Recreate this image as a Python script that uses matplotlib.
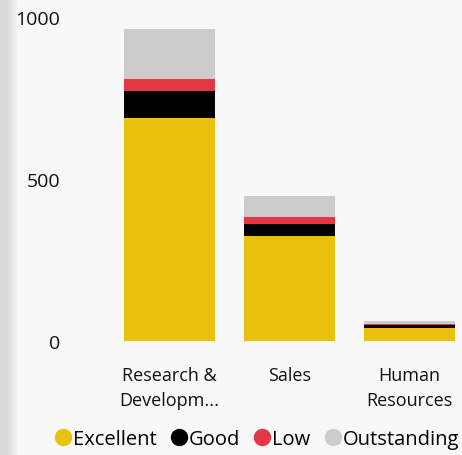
import matplotlib
matplotlib.use("Agg")
import matplotlib.pyplot as plt
from matplotlib.lines import Line2D
from matplotlib.patches import Rectangle
import numpy as np

categories = ["Research &\nDevelopm...", "Sales", "Human\nResources"]
series_names = ["Excellent", "Good", "Low", "Outstanding"]
excellent = [688, 323, 41]
good = [83, 38, 7]
low = [37, 22, 4]
outstanding = [154, 64, 10]
colors = ["#EAC10D", "#000000", "#E53646", "#CCCCCC"]
yticks = [0, 500, 1000]

plt.rcParams['font.family'] = ['Open Sans', 'DejaVu Sans']
W, H = 462, 456
fig = plt.figure(figsize=(W/100, H/100), dpi=100)
fig.patch.set_facecolor("#F8F8F8")

# left grey strip
fig.patches.append(Rectangle((0, 0), 8/W, 1, transform=fig.transFigure,
                             facecolor="#D9D9D9", edgecolor="none", zorder=0))
for i in range(10):
    c = 0.851 + (0.973 - 0.851) * (i + 1) / 11
    fig.patches.append(Rectangle(((8 + i)/W, 0), 1/W, 1, transform=fig.transFigure,
                                 facecolor=(c, c, c), edgecolor="none", zorder=0))

left, right = 110, 462
bottom, top = 342, 18
ax = fig.add_axes([left/W, (H-bottom)/H, (right-left)/W, (bottom-top)/H])
ax.set_facecolor("none")

x = np.arange(len(categories))
series = [excellent, good, low, outstanding]
base = np.zeros(len(categories))
for vals, name, col in zip(series, series_names, colors):
    ax.bar(x, vals, bottom=base, width=0.76, color=col, label=name, linewidth=0)
    base += np.array(vals)

ax.set_xlim(-0.496, 2.4375)
ax.set_ylim(0, 1000)
ax.set_yticks(yticks)
ax.set_yticklabels([str(v) for v in yticks], fontsize=14, color="#111111")
ax.tick_params(axis='y', length=0, pad=36)
ax.set_xticks(x)
ax.set_xticklabels(categories, fontsize=13, color="#111111", linespacing=1.5)
ax.tick_params(axis='x', length=0, pad=18)
for s in ax.spines.values():
    s.set_visible(False)

handles = [Line2D([0], [0], marker='o', linestyle='none', markersize=11.5,
                  markerfacecolor=c, markeredgecolor=c) for c in colors]
fig.legend(handles, series_names, loc='center', bbox_to_anchor=(256/W, (H-440)/H),
           ncol=4, frameon=False, fontsize=14.5, handletextpad=0.0,
           columnspacing=0.6, handlelength=1.0, borderpad=0)

fig.savefig("out.png", dpi=100, facecolor=fig.get_facecolor())
